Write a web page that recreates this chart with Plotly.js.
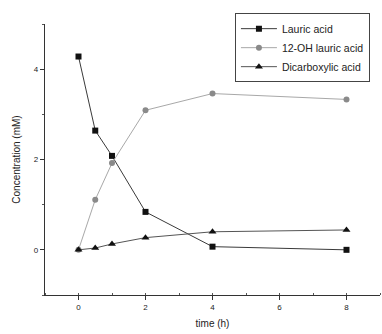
<!DOCTYPE html>
<html>
<head>
<meta charset="utf-8">
<script src="https://cdn.plot.ly/plotly-3.0.1.min.js"></script>
<style>html,body{margin:0;padding:0;background:#fff;}#chart{width:382px;height:334px;}</style>
</head>
<body>
<div id="chart"></div>
<script>
const time = [0, 0.5, 1, 2, 4, 8];
const lauric = [4.28, 2.64, 2.08, 0.84, 0.07, 0.0];
const hydroxy = [0.0, 1.11, 1.92, 3.09, 3.46, 3.33];
const dicarb = [0.0, 0.04, 0.13, 0.27, 0.40, 0.44];
const names = ["Lauric acid", "12-OH lauric acid", "Dicarboxylic acid"];
const xTicks = [0, 2, 4, 6, 8];
const yTicks = [0, 2, 4];

const traces = [
  {x: time, y: lauric, name: names[0], mode: 'lines+markers', type: 'scatter',
   line: {color: '#3a3a3a', width: 1}, marker: {symbol: 'square', size: 6, color: '#111'}},
  {x: time, y: hydroxy, name: names[1], mode: 'lines+markers', type: 'scatter',
   line: {color: '#a8a8a8', width: 1}, marker: {symbol: 'circle', size: 6, color: '#8a8a8a'}},
  {x: time, y: dicarb, name: names[2], mode: 'lines+markers', type: 'scatter',
   line: {color: '#555', width: 1}, marker: {symbol: 'triangle-up', size: 7, color: '#111'}}
];

const layout = {
  width: 382, height: 334,
  margin: {l: 45, r: 2, t: 24, b: 39},
  paper_bgcolor: '#fff', plot_bgcolor: '#fff',
  font: {family: 'Liberation Sans, Arial, sans-serif', color: '#222', size: 8},
  showlegend: true,
  legend: {x: 0.567, y: 1.04, xanchor: 'left', yanchor: 'top',
    bordercolor: '#444', borderwidth: 1, bgcolor: '#fff',
    font: {size: 10.5, color: '#222'}, tracegroupgap: 0, itemwidth: 36},
  xaxis: {range: [-1, 9], tickvals: xTicks, ticktext: xTicks.map(String),
    showgrid: false, zeroline: false, showline: true, linecolor: '#333', linewidth: 1.3,
    ticks: 'outside', ticklen: 4, tickcolor: '#333',
    minor: {dtick: 1, tick0: 0, ticks: 'inside', ticklen: 2, tickcolor: '#555'},
    tickfont: {size: 8},
    title: {text: 'time (h)', font: {size: 10}, standoff: 9}},
  yaxis: {range: [-1, 5], tickvals: yTicks, ticktext: yTicks.map(String),
    showgrid: false, zeroline: false, showline: true, linecolor: '#333', linewidth: 1.3,
    ticks: 'outside', ticklen: 4, tickcolor: '#333',
    minor: {dtick: 1, tick0: 0, ticks: 'outside', ticklen: 2, tickcolor: '#555'},
    tickfont: {size: 8},
    title: {text: 'Concentration (mM)', font: {size: 10}, standoff: 11}}
};

Plotly.newPlot('chart', traces, layout, {displayModeBar: false, staticPlot: true});
</script>
</body>
</html>
